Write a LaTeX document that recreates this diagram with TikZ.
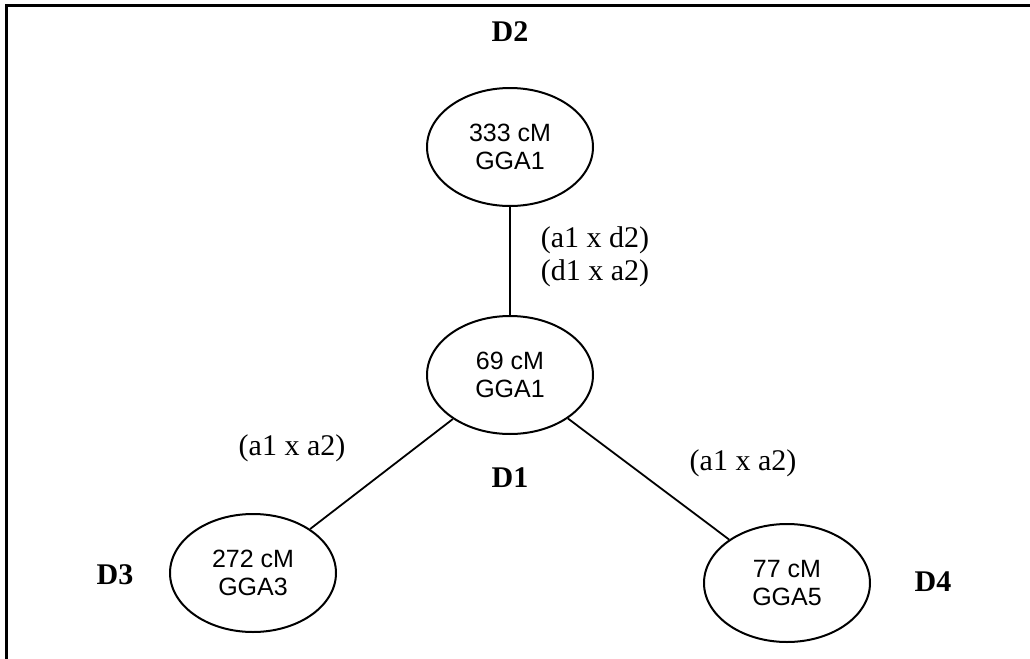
\documentclass[tikz,border=0pt]{standalone}
\usepackage{fontspec}
\setmainfont{Liberation Serif}
\newfontfamily\arialfont{Liberation Sans}
\usetikzlibrary{shapes.geometric}
\tikzset{
  chrom/.style={ellipse, draw, line width=1pt, minimum width=83pt, minimum height=59pt, inner sep=0pt,
    align=center, font=\arialfont\fontsize{12.5}{14}\selectfont},
  dlabel/.style={font=\fontsize{15}{17}\selectfont\bfseries, inner sep=0pt},
  crosslabel/.style={font=\fontsize{15}{16.5}\selectfont, inner sep=0pt, align=left},
  link/.style={line width=0.9pt}
}
\begin{document}
\begin{tikzpicture}[x=0.5pt, y=-0.5pt]
\useasboundingbox (0,0) rectangle (1030,659);
\draw[line width=1.5pt] (6.5,662) -- (6.5,5.5) -- (1032,5.5);
\node[chrom] (d2) at (510,147) {333 cM\\GGA1};
\node[chrom] (d1) at (510,375) {69 cM\\GGA1};
\node[chrom] (d3) at (253,573) {272 cM\\GGA3};
\node[chrom] (d4) at (787,583) {77 cM\\GGA5};
\draw[link] (d2) -- (d1);
\draw[link] (d1) -- (d3);
\draw[link] (d1) -- (d4);
\node[dlabel] (l2) at (510,32) {D2};
\node[dlabel] (l1) at (510,478) {D1};
\node[dlabel] (l3) at (115,575) {D3};
\node[dlabel] (l4) at (933,582) {D4};
\node[crosslabel] (c1) at (595,257) {(a1 x d2)\\(d1 x a2)};
\node[crosslabel] (c2) at (292,448) {(a1 x a2)};
\node[crosslabel] (c3) at (743,463) {(a1 x a2)};
\end{tikzpicture}
\end{document}
